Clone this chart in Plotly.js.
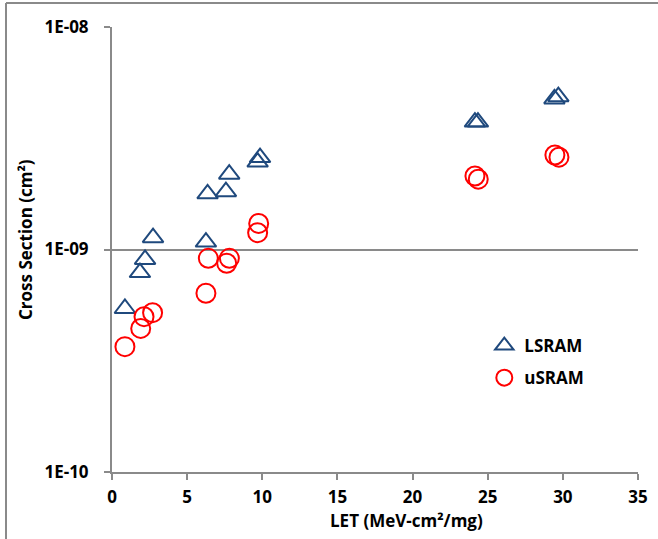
<!DOCTYPE html>
<html>
<head>
<meta charset="utf-8">
<script src="https://cdn.plot.ly/plotly-3.0.1.min.js"></script>
<style>
html,body{margin:0;padding:0;background:#fff;}
#chart{width:658px;height:539px;}
</style>
</head>
<body>
<div id="chart"></div>
<script>
// LET (MeV-cm2/mg) and cross section (cm2)
const lsramLET = [0.86, 1.86, 2.2, 2.73, 6.25, 6.36, 7.58, 7.8, 9.69, 9.85, 24.15, 24.35, 29.44, 29.7];
const lsramXS  = [5.43e-10, 7.88e-10, 9.02e-10, 1.13e-9, 1.08e-9, 1.78e-9, 1.82e-9, 2.18e-9, 2.47e-9, 2.59e-9, 3.74e-9, 3.74e-9, 4.75e-9, 4.86e-9];
const usramLET = [0.86, 1.91, 2.13, 2.7, 6.25, 6.41, 7.63, 7.81, 9.69, 9.76, 24.15, 24.37, 29.47, 29.74];
const usramXS  = [3.66e-10, 4.42e-10, 4.99e-10, 5.2e-10, 6.36e-10, 9.13e-10, 8.67e-10, 9.13e-10, 1.19e-9, 1.31e-9, 2.14e-9, 2.07e-9, 2.66e-9, 2.6e-9];
const yTickVals = [1e-10, 1e-9, 1e-8];
const yTickText = ["1E-10", "1E-09", "1E-08"];
const xTickVals = [0, 5, 10, 15, 20, 25, 30, 35];

const FONT = {family: '"Open Sans", Lato, sans-serif', size: 17, color: '#000', weight: 'bold'};
const GREY = '#8a8a8a';

const traces = [
  {
    x: lsramLET, y: lsramXS, name: 'LSRAM', type: 'scatter', mode: 'markers',
    legendgroup: 'a',
    marker: {symbol: 'triangle-up-open', size: 18, color: '#1F497D', line: {color: '#1F497D', width: 2}}
  },
  {
    x: usramLET, y: usramXS, name: 'uSRAM', type: 'scatter', mode: 'markers',
    legendgroup: 'b',
    marker: {symbol: 'circle-open', size: 19, color: '#FF0000', line: {color: '#FF0000', width: 2}}
  }
];

const layout = {
  width: 658, height: 539,
  margin: {l: 112, r: 20, t: 27, b: 67, pad: 0},
  paper_bgcolor: '#fff', plot_bgcolor: '#fff',
  font: FONT,
  showlegend: true,
  legend: {
    x: 0.7078, xanchor: 'left', y: 0.3236, yanchor: 'top',
    font: FONT, bgcolor: 'rgba(0,0,0,0)', tracegroupgap: 7, itemwidth: 30
  },
  xaxis: {
    range: [0, 35], tickvals: xTickVals, ticktext: xTickVals.map(String),
    showgrid: false, zeroline: false,
    showline: true, linecolor: GREY, linewidth: 2,
    ticks: 'outside', ticklen: 6, tickwidth: 2, tickcolor: GREY,
    tickfont: FONT, ticklabelstandoff: 3, fixedrange: true
  },
  yaxis: {
    type: 'log', range: [-10, -8], tickvals: yTickVals, ticktext: yTickText,
    showgrid: true, gridcolor: GREY, gridwidth: 2, zeroline: false,
    showline: true, linecolor: GREY, linewidth: 2,
    ticks: 'outside', ticklen: 6, tickwidth: 2, tickcolor: GREY,
    tickfont: FONT, ticklabelstandoff: 12, fixedrange: true
  },
  annotations: [
    {text: 'LET (MeV-cm²/mg)', xref: 'paper', yref: 'paper', x: (406 - 112) / 526, y: (472 - 520) / 445,
     xanchor: 'center', yanchor: 'middle', showarrow: false, font: FONT},
    {text: 'Cross Section (cm²)', xref: 'paper', yref: 'paper', x: (25 - 112) / 526, y: (472 - 240) / 445,
     xanchor: 'center', yanchor: 'middle', showarrow: false, textangle: -90, font: FONT}
  ],
  shapes: [
    {type: 'line', xref: 'paper', yref: 'paper', x0: (6 - 112) / 526, x1: (6 - 112) / 526, y0: (472 - 545) / 445, y1: (472 - 3) / 445,
     line: {color: GREY, width: 2}},
    {type: 'line', xref: 'paper', yref: 'paper', x0: (6 - 112) / 526, x1: (665 - 112) / 526, y0: (472 - 3) / 445, y1: (472 - 3) / 445,
     line: {color: GREY, width: 2}}
  ]
};

Plotly.newPlot('chart', traces, layout, {staticPlot: true, displayModeBar: false});
</script>
</body>
</html>
